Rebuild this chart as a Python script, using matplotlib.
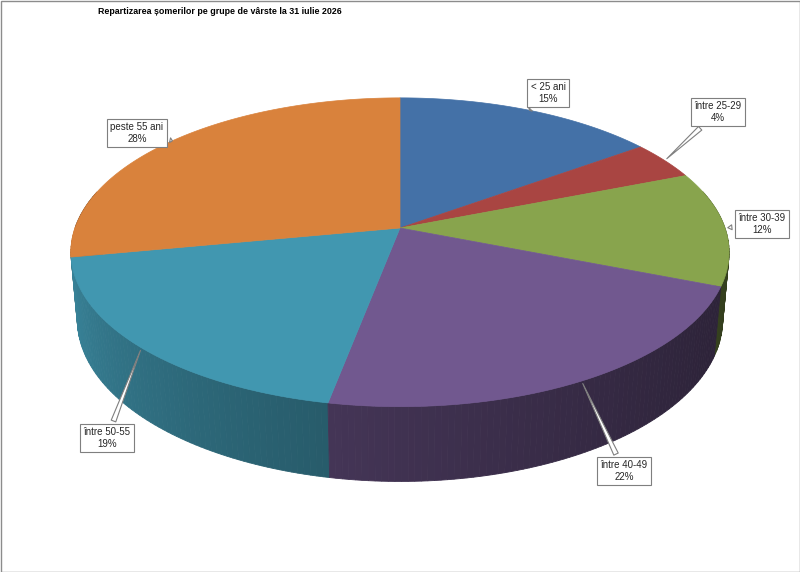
import matplotlib
matplotlib.use('Agg')
import matplotlib.pyplot as plt
from matplotlib.patches import Polygon, Rectangle
from matplotlib import font_manager
from matplotlib.colors import to_rgb
import numpy as np

title = 'Repartizarea șomerilor pe grupe de vârste la 31 iulie 2026'
groups = ['< 25 ani', 'între 25-29', 'între 30-39', 'între 40-49', 'între 50-55', 'peste 55 ani']
shares = [15, 4, 12, 22, 19, 28]
colors = ['#4471a7', '#a94542', '#88a44d', '#71588f', '#4197b0', '#d9823c']

# where the label boxes sit (pixels)
label_xy = [(548, 93), (718, 112), (762, 224), (624, 471), (107, 438), (137, 133)]

# narrow font like Calibri if we have one
installed = {f.name for f in font_manager.fontManager.ttflist}
narrow = 'Liberation Sans Narrow' if 'Liberation Sans Narrow' in installed else 'Liberation Sans'
plt.rcParams['font.family'] = [narrow, 'DejaVu Sans']

# 3d view of the pie
CX, CY, R = 400, 228, 325
PHI = np.radians(27.6)
DIST = 5.64
H = 0.236


def project(x, y, z):
    s, c = np.sin(PHI), np.cos(PHI)
    v = y * s + z * c
    w = y * c - z * s
    f = DIST / (DIST + w)
    return CX + R * x * f, CY - R * v * f


def shade(theta):
    # theta in degrees, front half is -180..0
    t = np.clip(-theta / 180.0, 0, 1)
    return 0.37 + 0.56 * t ** 1.5


fig = plt.figure(figsize=(8, 5.72), dpi=100)
ax = fig.add_axes([0, 0, 1, 1])
ax.set_xlim(0, 800)
ax.set_ylim(572, 0)
ax.axis('off')

fracs = np.array(shares) / sum(shares)
starts = 90 - 360 * np.concatenate([[0], np.cumsum(fracs)[:-1]])
ends = starts - 360 * fracs

# outer walls, back to front
quads = []
for i in range(len(shares)):
    n = max(int(abs(ends[i] - starts[i])), 2)
    th = np.linspace(starts[i], ends[i], n + 1)
    for a, b in zip(th[:-1], th[1:]):
        mid = (a + b) / 2
        m = (mid + 180) % 360 - 180
        if np.sin(np.radians(m)) > 0.25:
            continue
        ra, rb = np.radians(a), np.radians(b)
        p = [project(np.cos(ra), np.sin(ra), 0), project(np.cos(rb), np.sin(rb), 0),
             project(np.cos(rb), np.sin(rb), -H), project(np.cos(ra), np.sin(ra), -H)]
        col = np.array(to_rgb(colors[i])) * shade(m)
        quads.append((np.sin(np.radians(m)), p, col))
quads.sort(key=lambda q: -q[0])
for _, p, col in quads:
    ax.add_patch(Polygon(p, closed=True, fc=col, ec=col, lw=0.6))

# top faces
for i in range(len(shares)):
    th = np.radians(np.linspace(starts[i], ends[i], 120))
    pts = [project(0, 0, 0)] + [project(np.cos(t), np.sin(t), 0) for t in th]
    ax.add_patch(Polygon(pts, closed=True, fc=colors[i], ec=colors[i], lw=0.5))

# callout labels
for i in range(len(shares)):
    mid = np.radians((starts[i] + ends[i]) / 2)
    anchor = project(np.cos(mid), np.sin(mid), 0)
    ax.annotate(f'{groups[i]}\n{shares[i]}%', xy=anchor, xytext=label_xy[i],
                ha='center', va='center', fontsize=7, color='#262626',
                multialignment='center', linespacing=1.15,
                bbox=dict(boxstyle='square,pad=0.35', fc='white', ec='#7f7f7f', lw=0.8),
                arrowprops=dict(arrowstyle='wedge,tail_width=0.5,shrink_factor=0.5',
                                fc='white', ec='#7f7f7f', lw=0.8))

ax.text(98, 11.5, title, fontsize=6.4, fontweight='bold', ha='left', va='center', color='black')
ax.add_patch(Rectangle((0.5, 0.5), 799, 571, fill=False, ec='#8c8c8c', lw=1))

fig.savefig('out.png', dpi=100)
